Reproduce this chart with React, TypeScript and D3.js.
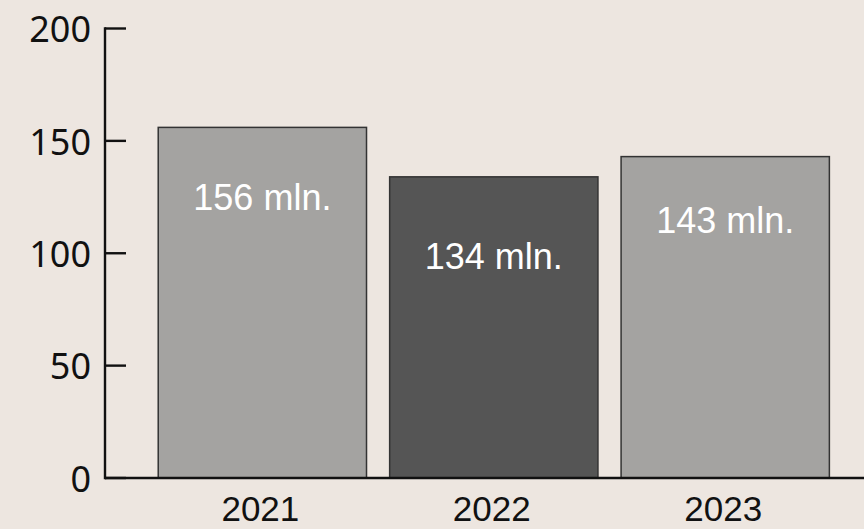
import React from "react";
import * as d3 from "d3";

const categories = ["2021", "2022", "2023"];
const values = [156, 134, 143];
const valueLabels = ["156 mln.", "134 mln.", "143 mln."];
const labelBaselineValues = [119.2, 93, 109];
const barColors = ["#a4a3a1", "#555555", "#a4a3a1"];
const yTicks = [0, 50, 100, 150, 200];

const W = 864;
const H = 529;

export default function App() {
  const y = d3.scaleLinear().domain([0, 200]).range([478, 28.5]);
  const x = d3
    .scaleBand<string>()
    .domain(categories)
    .range([105, 882.6])
    .paddingInner(0.1)
    .paddingOuter(0.23);
  const axisX = 105;
  return (
    <svg
      width={W}
      height={H}
      style={{ position: "absolute", left: 0, top: 0, display: "block" }}
    >
      <rect x={0} y={0} width={W} height={H} fill="#ede6e0" />
      {categories.map((c, i) => (
        <g key={c}>
          <rect
            x={x(c)!}
            y={y(values[i])}
            width={x.bandwidth()}
            height={y(0) - y(values[i])}
            fill={barColors[i]}
            stroke="#333333"
            strokeWidth={1.5}
          />
          <text
            x={x(c)! + x.bandwidth() / 2}
            y={y(labelBaselineValues[i])}
            textAnchor="middle"
            fill="#ffffff"
            fontFamily="'Liberation Sans', Arial, sans-serif"
            fontSize={36}
          >
            {valueLabels[i]}
          </text>
          <text
            x={x(c)! + x.bandwidth() / 2 - 2}
            y={y(0) + 43}
            textAnchor="middle"
            fill="#111111"
            fontFamily="'Liberation Sans', Arial, sans-serif"
            fontSize={35}
          >
            {c}
          </text>
        </g>
      ))}
      <line x1={axisX} x2={W} y1={y(0)} y2={y(0)} stroke="#111" strokeWidth={2.4} />
      <line x1={axisX} x2={axisX} y1={y(200) - 1.2} y2={y(0) + 1.2} stroke="#111" strokeWidth={2.4} />
      {yTicks.map((t) => (
        <g key={t}>
          <line x1={axisX} x2={axisX + 21} y1={y(t)} y2={y(t)} stroke="#111" strokeWidth={2.4} />
          <text
            x={91}
            y={y(t)}
            dy="0.38em"
            textAnchor="end"
            fill="#111111"
            fontFamily="'Noto Sans', sans-serif"
            fontSize={36}
          >
            {t}
          </text>
        </g>
      ))}
    </svg>
  );
}
